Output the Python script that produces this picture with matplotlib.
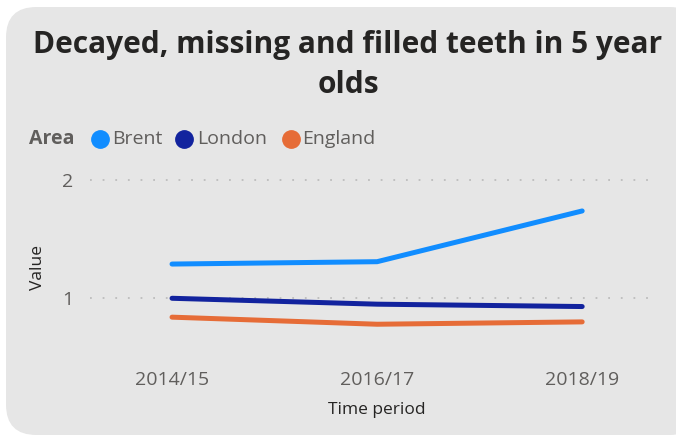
import matplotlib.pyplot as plt
from matplotlib.patches import FancyBboxPatch
from matplotlib.lines import Line2D

periods = ['2014/15', '2016/17', '2018/19']
brent = [1.29, 1.31, 1.74]
london = [1.00, 0.95, 0.93]
england = [0.84, 0.78, 0.80]

series = [('Brent', brent, '#118DFF'),
          ('London', london, '#12239E'),
          ('England', england, '#E66C37')]

W, H = 676, 436
FONT = ['Open Sans', 'DejaVu Sans']
GREY = '#605E5C'
DARK = '#252423'


def fx(px):
    return px / W


def fy(py):
    return 1 - py / H


fig = plt.figure(figsize=(W / 100, H / 100), dpi=100)
fig.patch.set_facecolor('white')

# background card
card = FancyBboxPatch((fx(6), fy(435)), fx(700) - fx(6), fy(7) - fy(435),
                      boxstyle='round,pad=0,rounding_size=0.045',
                      transform=fig.transFigure, facecolor='#E6E6E6',
                      edgecolor='none', zorder=-5, mutation_aspect=W / H)
fig.patches.append(card)

fig.text(fx(348), fy(45), 'Decayed, missing and filled teeth in 5 year',
         ha='center', va='center', fontsize=21.5, fontweight='bold',
         color=DARK, family=FONT)
fig.text(fx(348), fy(85), 'olds', ha='center', va='center', fontsize=21.5,
         fontweight='bold', color=DARK, family=FONT)

# legend row
fig.text(fx(29), fy(139), 'Area', ha='left', va='center', fontsize=14,
         fontweight='bold', color=GREY, family=FONT)
legend_x = [(100, 112), (184, 197), (291, 302)]
for (name, _, col), (cx, tx) in zip(series, legend_x):
    fig.add_artist(Line2D([fx(cx)], [fy(139)], marker='o', markersize=12.5,
                          color=col, transform=fig.transFigure))
    fig.text(fx(tx), fy(139), name, ha='left', va='center', fontsize=14,
             color=GREY, family=FONT)

ax = fig.add_axes([fx(90), fy(360), fx(656) - fx(90), fy(170) - fy(360)])
ax.set_facecolor('none')
x = list(range(len(periods)))
for name, vals, col in series:
    ax.plot(x, vals, color=col, lw=3.6, solid_capstyle='round',
            solid_joinstyle='round', zorder=3)

ax.set_xlim(-0.4, 2.36)
ax.set_ylim(0.477, 2.087)
ax.set_yticks([1, 2])
ax.set_yticklabels(['1', '2'])
ax.set_xticks(x)
ax.set_xticklabels(periods)
ax.tick_params(length=0, labelsize=14, labelcolor=GREY)
ax.tick_params(axis='y', pad=12)
ax.tick_params(axis='x', pad=8)
for lbl in ax.get_xticklabels() + ax.get_yticklabels():
    lbl.set_family(FONT)
ax.grid(axis='y', color='#BDBDBD', lw=1.3, linestyle=(0, (1, 6)))
for s in ax.spines.values():
    s.set_visible(False)

fig.text(fx(377), fy(410), 'Time period', ha='center', va='center',
         fontsize=12.5, color=DARK, family=FONT)
fig.text(fx(38), fy(268), 'Value', ha='center', va='center', rotation=90,
         fontsize=12.5, color=DARK, family=FONT)

fig.savefig('out.png', dpi=100)
